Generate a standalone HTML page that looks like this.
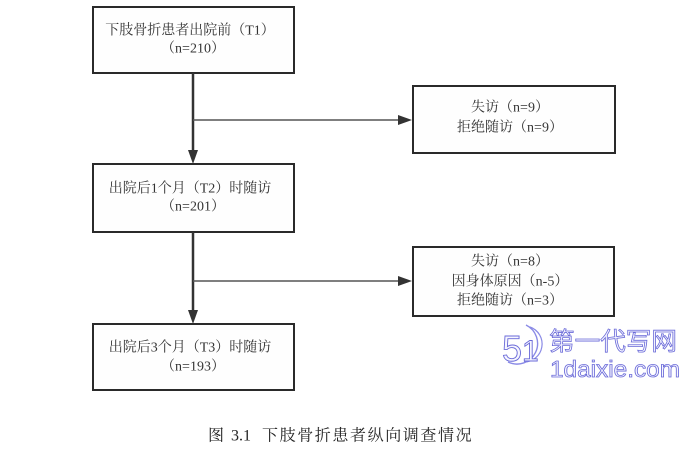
<!DOCTYPE html>
<html>
<head>
<meta charset="utf-8">
<style>
  html,body{margin:0;padding:0;background:#ffffff;}
  body{width:697px;height:451px;overflow:hidden;position:relative;}
  svg{position:absolute;left:0;top:0;}
  .t{font-family:"Liberation Serif","Noto Serif CJK SC",serif;font-size:14px;fill:#333;}
</style>
</head>
<body>
<svg width="697" height="451" viewBox="0 0 697 451" xmlns="http://www.w3.org/2000/svg">
  <!-- boxes -->
  <g fill="#fefefe" stroke="#2a2a2a" stroke-width="2">
    <rect x="93" y="7" width="201" height="66"/>
    <rect x="93" y="164" width="201" height="68"/>
    <rect x="93" y="324" width="201" height="66"/>
    <rect x="413" y="86" width="202" height="67"/>
    <rect x="413" y="247" width="201" height="69"/>
  </g>

  <!-- vertical connectors -->
  <g stroke="#333" stroke-width="2.5" fill="none">
    <line x1="193" y1="73" x2="193" y2="152"/>
    <line x1="193" y1="232" x2="193" y2="312"/>
  </g>
  <g fill="#333">
    <polygon points="188,150 198,150 193,164"/>
    <polygon points="188,310 198,310 193,324"/>
  </g>

  <!-- horizontal branches -->
  <g stroke="#555" stroke-width="1.6" fill="none">
    <line x1="193" y1="120" x2="400" y2="120"/>
    <line x1="193" y1="281" x2="400" y2="281"/>
  </g>
  <g fill="#333">
    <polygon points="398,115 398,125 412,120"/>
    <polygon points="398,276 398,286 412,281"/>
  </g>

  <!-- texts -->
  <g class="t" text-anchor="middle" dominant-baseline="central">
    <text x="190" y="31">下肢骨折患者出院前（T1）</text>
    <text x="193" y="49">（n=210）</text>

    <text x="190" y="189">出院后1个月（T2）时随访</text>
    <text x="193" y="207">（n=201）</text>

    <text x="190" y="348">出院后3个月（T3）时随访</text>
    <text x="193" y="367">（n=193）</text>

    <text x="510" y="108">失访（n=9）</text>
    <text x="510" y="128">拒绝随访（n=9）</text>

    <text x="510" y="262">失访（n=8）</text>
    <text x="510" y="282">因身体原因（n-5）</text>
    <text x="510" y="301">拒绝随访（n=3）</text>
  </g>

  <!-- caption -->
  <g font-family="Liberation Serif,Noto Serif CJK SC,serif" font-size="16" fill="#222" dominant-baseline="central">
    <text x="208" y="436">图</text>
    <text x="231" y="436">3.1</text>
    <text x="262" y="436" letter-spacing="1.6">下肢骨折患者纵向调查情况</text>
  </g>

  <!-- watermark -->
  <g>
    <path d="M 526 325 A 20 20 0 1 1 508 362" fill="none" stroke="#8a8ae6" stroke-width="1.4"/>
    <path d="M 530 327 A 18 18 0 0 1 524 362" fill="none" stroke="#8a8ae6" stroke-width="1.2"/>
    <text x="502" y="361" font-family="Liberation Sans,sans-serif" font-size="36" fill="#f6f6ff" stroke="#6a6ad8" stroke-width="0.9">5</text>
    <text x="522" y="361" font-family="Liberation Sans,sans-serif" font-size="30" fill="#f6f6ff" stroke="#6a6ad8" stroke-width="0.9">1</text>
    <text x="549" y="350" font-family="Noto Sans CJK SC,sans-serif" font-size="25" fill="#f6f6ff" stroke="#6a6ad8" stroke-width="0.8" textLength="128" lengthAdjust="spacingAndGlyphs">第一代写网</text>
    <text x="550" y="377" font-family="Liberation Sans,sans-serif" font-size="23" fill="#f6f6ff" stroke="#6a6ad8" stroke-width="0.8" textLength="130" lengthAdjust="spacingAndGlyphs">1daixie.com</text>
  </g>
</svg>
</body>
</html>
